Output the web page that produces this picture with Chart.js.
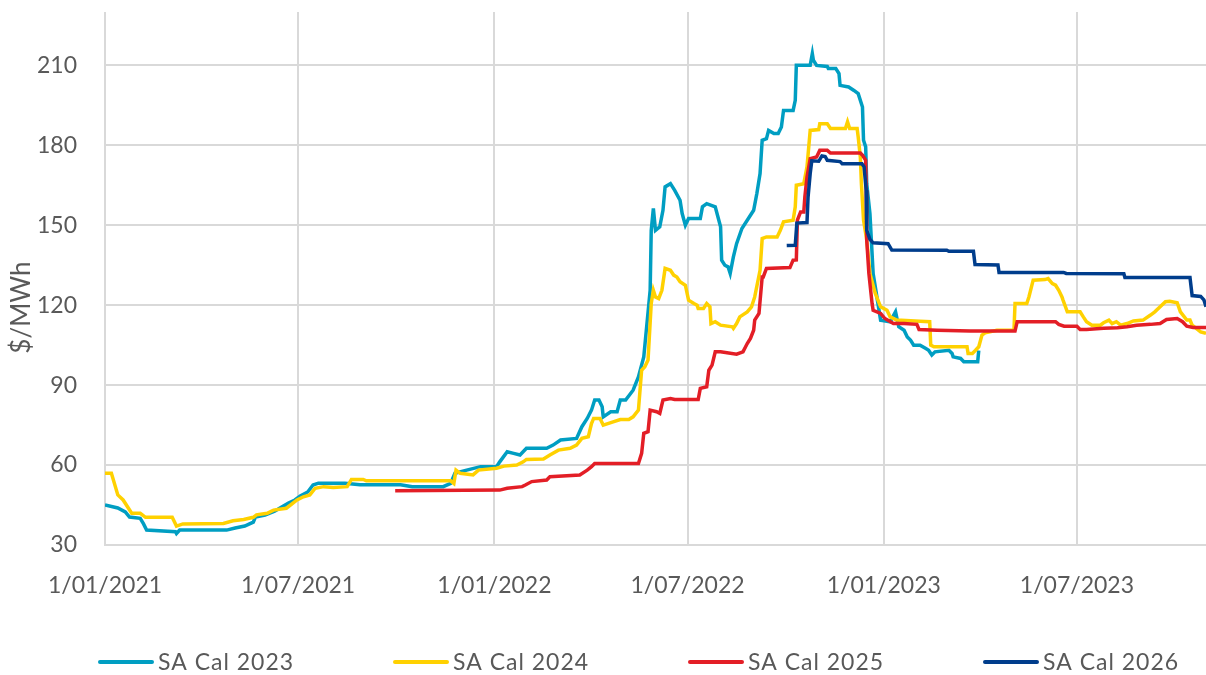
<!DOCTYPE html>
<html>
<head>
<meta charset="utf-8">
<script src="https://cdn.jsdelivr.net/npm/chart.js@4.4.1/dist/chart.umd.min.js"></script>
<style>
  html, body { margin: 0; padding: 0; background: #ffffff; }
  #wrap { width: 1206px; height: 675px; position: relative; }
</style>
</head>
<body>
<div id="wrap"><canvas id="c" width="1206" height="675"></canvas></div>
<script>
// x values are days since 1 January 2021
const tickDays = [0, 181, 365, 546, 730, 911];
const tickLabels = ["1/01/2021", "1/07/2021", "1/01/2022", "1/07/2022", "1/01/2023", "1/07/2023"];
const yTicks = [30, 60, 90, 120, 150, 180, 210];
const seriesNames = ["SA Cal 2023", "SA Cal 2024", "SA Cal 2025", "SA Cal 2026"];
const yTitle = "$/MWh";

const cal2023Days = [0,12,19,23,33,36,39,66,67,70,114,122,131,139,141,150,159,164,172,178,183,190,195,200,225,239,277,288,317,324,328,339,352,367,370,377,383,389,395,414,420,427,442,447,452,456,459,463,466,467,474,480,483,488,495,500,505,511,512,514,516,520,523,525,530,534,539,541,544,547,558,560,564,572,577,578,581,584,586,589,592,597,602,608,611,614,616,620,622,627,631,634,636,645,647,648,661,663,664,667,677,678,685,688,689,697,702,706,710,711,713,714,717,720,724,727,736,741,744,749,752,755,758,764,769,772,775,778,791,794,795,802,805,818,819];
const cal2023Values = [45.0,43.9,42.4,40.5,40.0,38.0,35.6,35.0,34.3,35.6,35.6,36.4,37.1,38.6,40.5,41.2,42.7,43.9,45.7,46.9,48.4,49.9,52.5,53.2,53.2,52.6,52.6,51.9,51.9,53.1,56.9,58.1,59.4,59.4,61.2,65.0,64.4,63.8,66.3,66.3,67.5,69.4,70.0,74.4,77.5,80.6,84.4,84.4,81.9,78.1,80.0,80.0,84.4,84.4,88.1,93.1,100.6,125.6,148.1,156.3,148.1,149.4,155.6,164.4,165.6,163.1,159.4,154.4,150.0,152.5,152.5,156.9,158.1,156.9,149.4,136.9,135.0,134.4,131.9,138.1,143.1,148.8,151.9,155.6,161.9,169.4,181.9,182.5,185.6,184.4,184.4,186.9,193.1,193.1,196.9,210.0,210.0,214.4,211.9,210.0,209.6,208.8,208.8,206.9,202.5,201.9,200.6,199.4,194.4,181.9,179.4,165.6,154.4,131.9,121.9,114.4,113.8,117.5,111.9,110.6,108.1,106.9,105.0,105.0,103.8,103.1,101.3,102.5,103.1,101.9,100.6,100.0,98.8,98.8,103.0];

const cal2024Days = [0,6,12,17,22,25,33,38,63,67,73,111,120,130,139,142,152,158,170,180,186,192,197,205,214,227,231,242,245,324,327,329,333,345,350,367,374,386,392,395,411,417,425,436,442,447,453,456,458,464,467,477,483,491,495,500,503,506,509,512,514,516,519,522,525,530,533,536,539,544,547,552,555,556,561,564,567,568,572,577,588,589,592,595,602,606,609,614,616,620,630,633,636,645,647,648,655,658,661,669,670,677,680,694,696,698,705,706,708,709,711,714,717,722,727,733,736,742,764,773,774,777,808,809,813,816,819,822,825,836,852,853,864,866,870,881,884,888,891,894,897,898,902,914,917,920,925,933,936,941,944,948,952,958,964,973,980,984,989,994,998,1005,1008,1014,1017,1019,1027,1032];
const cal2024Values = [56.9,56.9,48.8,46.9,43.8,41.9,41.9,40.4,40.4,37.1,37.9,38.1,39.1,39.6,40.4,41.3,41.9,43.1,43.8,46.9,48.1,48.8,51.3,51.9,51.6,51.9,54.6,54.6,54.1,54.1,53.1,58.1,56.9,56.3,58.1,58.8,59.6,60.0,61.2,62.1,62.3,63.8,65.6,66.3,67.5,70.0,70.6,75.6,77.5,77.5,75.0,76.3,77.1,77.1,78.1,80.6,95.6,96.9,99.4,120.6,125.6,123.1,122.5,125.6,133.8,133.1,131.3,130.6,128.8,127.5,121.9,120.6,120.0,118.8,118.8,120.6,119.4,113.1,113.8,112.5,111.9,111.3,113.1,115.6,117.5,119.4,123.1,133.1,145.0,145.6,145.6,148.1,151.3,151.9,156.9,165.0,165.6,171.9,185.6,185.9,188.1,188.1,186.3,186.3,188.8,186.3,186.3,183.1,175.6,165.6,151.9,144.4,131.9,124.4,119.4,118.1,115.6,114.4,114.0,113.8,105.0,104.4,104.4,101.9,101.9,103.1,104.4,108.8,109.6,110.6,110.6,120.6,120.6,123.1,129.4,129.6,130.0,128.1,127.5,125.6,123.1,121.9,117.5,117.5,115.6,113.8,112.5,112.5,113.4,114.4,113.1,113.8,112.5,113.1,114.1,114.4,116.3,117.5,119.4,121.3,121.5,120.9,117.5,114.4,114.4,112.5,110.0,109.4];

const cal2025Days = [272,370,377,391,394,400,414,417,445,452,456,459,500,503,505,509,511,517,520,523,530,534,556,558,564,566,569,572,577,592,598,602,605,608,609,613,616,617,620,642,645,648,649,652,655,656,658,661,667,670,677,680,708,710,713,713.5,714,716,719,720,727,731,739,749,761,763,780,811,853,855,891,894,899,911,914,920,936,949,958,967,980,989,995,1005,1010,1014,1020,1032];
const cal2025Values = [50.4,50.6,51.3,51.9,52.5,53.8,54.4,55.6,56.3,58.1,59.4,60.6,60.6,64.4,71.9,72.5,80.6,80.0,79.4,84.4,85.0,84.6,84.6,88.8,89.4,95.6,97.5,102.5,102.5,101.6,102.5,105.6,107.5,110.6,114.4,116.9,130.6,130.6,133.8,134.1,136.9,137.0,151.9,155.0,155.0,160.6,168.1,175.0,175.6,178.1,178.1,177.1,177.1,176.3,174.4,163.1,144.4,131.9,120.6,118.1,116.9,115.0,113.1,113.1,112.8,110.9,110.6,110.3,110.3,113.8,113.8,112.8,112.1,112.1,110.9,110.9,111.3,111.5,111.9,112.5,112.8,113.1,114.6,115.0,113.8,112.1,111.6,111.6];

const cal2026Days = [639,647,648.5,658,659,661,662.5,669,672,675,677,689,691,709.5,711.5,713.5,714,717,720,734,737.5,789,791,814,815.5,837,838,898.5,901,955,956,1017,1019,1027,1030,1032];
const cal2026Values = [142.4,142.5,150.8,151.0,160.6,169.4,174.2,174.0,176.0,175.8,174.4,173.9,173.1,173.1,171.9,163.1,148.1,144.7,143.4,143.1,140.7,140.6,140.2,140.2,135.3,135.1,132.3,132.3,131.9,131.8,130.4,130.4,123.6,123.3,122.0,119.4];

const seriesColors = ["#009EC2", "#FFD100", "#E31E26", "#003D8C"];
const xMax = 1032;

function pts(days, vals) { return days.map((d, i) => ({ x: d, y: vals[i] })); }

const FONT = "Lato";
const TXT = "#595959";
const GRID = "#D9D9D9";

const allDays = [cal2023Days, cal2024Days, cal2025Days, cal2026Days];
const allVals = [cal2023Values, cal2024Values, cal2025Values, cal2026Values];

const datasets = seriesNames.map((name, i) => ({
  label: name,
  data: pts(allDays[i], allVals[i]),
  borderColor: seriesColors[i],
  backgroundColor: seriesColors[i],
  borderWidth: 3.5,
  pointRadius: 0,
  tension: 0,
  fill: false,
  order: 4 - i
}));

const decorPlugin = {
  id: 'decor',
  afterDraw(chart) {
    const ctx = chart.ctx;
    const area = chart.chartArea;
    // legend row
    const y = 662, start = 100, step = 295, lineLen = 52;
    ctx.save();
    ctx.font = "23px " + FONT;
    if ('letterSpacing' in ctx) ctx.letterSpacing = "1px";
    ctx.textBaseline = "middle";
    ctx.textAlign = "left";
    chart.data.datasets.forEach((ds, i) => {
      const x0 = start + i * step;
      ctx.strokeStyle = ds.borderColor;
      ctx.lineWidth = 4;
      ctx.lineCap = "round";
      ctx.beginPath();
      ctx.moveTo(x0, y);
      ctx.lineTo(x0 + lineLen, y);
      ctx.stroke();
      ctx.fillStyle = TXT;
      ctx.fillText(ds.label, x0 + lineLen + 6, y + 1);
    });
    ctx.restore();
    // y-axis title
    ctx.save();
    ctx.translate(22, (area.top + area.bottom) / 2 + 29);
    ctx.rotate(-Math.PI / 2);
    ctx.font = "26px " + FONT;
    ctx.fillStyle = TXT;
    ctx.textAlign = "center";
    ctx.textBaseline = "middle";
    ctx.fillText(yTitle, 0, 0);
    ctx.restore();
  }
};

new Chart(document.getElementById('c'), {
  type: 'line',
  data: { datasets },
  plugins: [decorPlugin],
  options: {
    responsive: false,
    animation: false,
    events: [],
    layout: { padding: { top: 0, right: 0, bottom: 70, left: 0 } },
    plugins: { legend: { display: false }, tooltip: { enabled: false } },
    scales: {
      x: {
        type: 'linear',
        min: 0,
        max: xMax,
        afterBuildTicks: (axis) => { axis.ticks = tickDays.map(v => ({ value: v })); },
        afterFit: (axis) => { axis.height = 60; },
        ticks: {
          autoSkip: false,
          maxRotation: 0,
          padding: 27,
          color: TXT,
          font: { family: FONT, size: 23 }
        , callback: (v) => { const k = tickDays.indexOf(v); return k >= 0 ? tickLabels[k] : ''; }
        },
        grid: { color: GRID, lineWidth: 2, drawTicks: false },
        border: { color: GRID, width: 2 }
      },
      y: {
        type: 'linear',
        min: 30,
        max: 230,
        afterBuildTicks: (axis) => { axis.ticks = yTicks.map(v => ({ value: v })); },
        afterFit: (axis) => { axis.width = 105; },
        ticks: {
          padding: 0,
          color: TXT,
          font: { family: FONT, size: 23, lineHeight: 1.05 }
        },
        grid: { color: GRID, lineWidth: 2, drawTicks: true, tickLength: 28, tickColor: 'rgba(0,0,0,0)' },
        border: { display: false },
        title: { display: false }
      }
    }
  }
});
</script>
</body>
</html>
